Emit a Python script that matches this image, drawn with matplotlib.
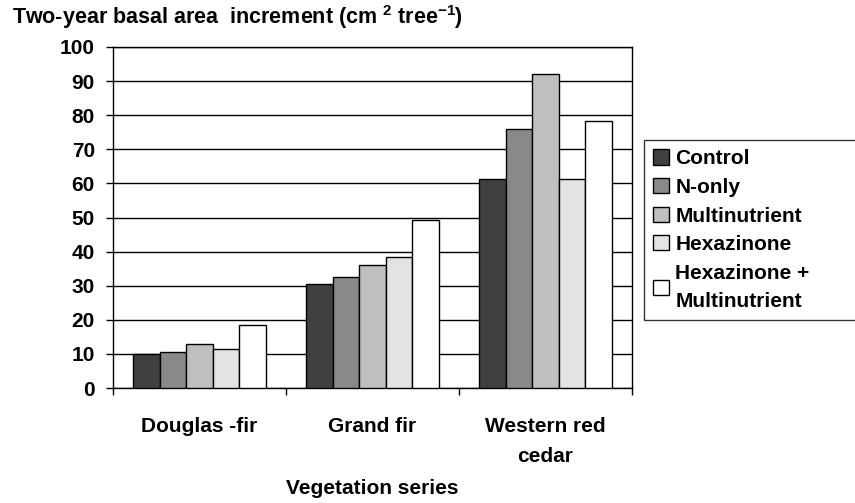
import numpy as np
import matplotlib
matplotlib.use('Agg')
import matplotlib.pyplot as plt
from matplotlib.ticker import MultipleLocator, FixedLocator

plt.rcParams['font.family'] = ['Liberation Sans', 'DejaVu Sans']
plt.rcParams['font.weight'] = 'bold'
plt.rcParams['mathtext.fontset'] = 'custom'
plt.rcParams['mathtext.rm'] = 'Liberation Sans:bold'
plt.rcParams['mathtext.default'] = 'rm'

# data
series_names = ['Douglas -fir', 'Grand fir', 'Western red\ncedar']
treatments = ['Control', 'N-only', 'Multinutrient', 'Hexazinone',
              'Hexazinone +\nMultinutrient']
control = [10.0, 30.4, 61.4]
n_only = [10.5, 32.5, 75.9]
multinutrient = [13.0, 36.0, 92.2]
hexazinone = [11.3, 38.5, 61.4]
hex_multi = [18.6, 49.3, 78.2]

colors = ['#404040', '#898989', '#bfbfbf', '#e3e3e3', '#ffffff']
values = [control, n_only, multinutrient, hexazinone, hex_multi]

fig = plt.figure(figsize=(8.55, 5.03), dpi=100)
ax = fig.add_axes([113 / 855, 1 - 388 / 503, (632 - 113) / 855, (388 - 47) / 503])

x = np.arange(len(series_names))
w = 0.154
for i, (vals, col, name) in enumerate(zip(values, colors, treatments)):
    ax.bar(x + (i - 2) * w, vals, width=w, color=col, edgecolor='black',
           linewidth=1, label=name, zorder=3)

ax.set_xlim(-0.5, 2.5)
ax.set_ylim(0, 100)
ax.yaxis.set_major_locator(MultipleLocator(10))
ax.yaxis.grid(True, color='black', linewidth=1)
ax.set_axisbelow(True)

ax.set_xticks(x)
ax.set_xticklabels(series_names, fontsize=15, fontweight='bold', linespacing=1.7)
ax.xaxis.set_minor_locator(FixedLocator([-0.5, 0.5, 1.5, 2.5]))
ax.tick_params(axis='x', which='major', length=0, pad=21)
ax.tick_params(axis='x', which='minor', length=5, direction='out', width=1)
ax.tick_params(axis='y', length=5, direction='out', width=1, labelsize=15, pad=8)
for lab in ax.get_yticklabels():
    lab.set_fontweight('bold')
for sp in ax.spines.values():
    sp.set_linewidth(1)
    sp.set_color('black')

ax.set_xlabel('Vegetation series', fontsize=15, fontweight='bold', va='center')
ax.xaxis.set_label_coords(0.5, (388 - 488) / 341)

fig.text(12 / 855, 1 - 17 / 503, r'Two-year basal area  increment (cm $^{2}$ tree$^{-1}$)',
         fontsize=15.5, fontweight='bold', va='center', ha='left')

leg = ax.legend(loc='upper left', mode='expand',
                bbox_to_anchor=(644 / 855, 1 - 318 / 503, 220 / 855, 178 / 503),
                bbox_transform=fig.transFigure, fontsize=15, frameon=True,
                fancybox=False, edgecolor='black', borderpad=0.45,
                handlelength=0.75, handleheight=0.75, handletextpad=0.3,
                labelspacing=0.46, borderaxespad=0)
leg.get_frame().set_linewidth(1)
for t in leg.get_texts():
    t.set_fontweight('bold')
    t.set_linespacing(1.6)

fig.savefig('out.png', dpi=100)
